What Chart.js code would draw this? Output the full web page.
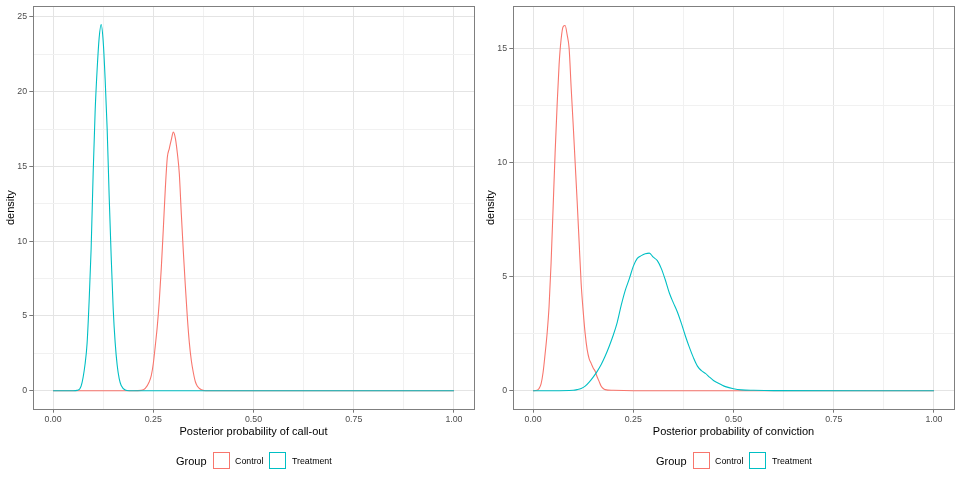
<!DOCTYPE html>
<html>
<head>
<meta charset="utf-8">
<script src="https://cdn.jsdelivr.net/npm/chart.js@4.4.1/dist/chart.umd.min.js"></script>
<style>
  html, body { margin: 0; padding: 0; background: #fff; }
  #wrap { position: relative; width: 960px; height: 480px; font-family: "Liberation Sans", Arial, sans-serif; }
  canvas { position: absolute; top: 0; }
  .legend { position: absolute; top: 452px; height: 17px; display: flex; align-items: center; white-space: nowrap; }
  .legend .ttl { font-size: 11px; color: #000; margin-right: 6px; }
  .legend .key { width: 17px; height: 17px; box-sizing: border-box; border: 1.1px solid; margin-right: 5.5px; }
  .legend .lab { font-size: 8.8px; color: #000; margin-right: 6px; }
</style>
</head>
<body>
<div id="wrap">
  <canvas id="callout" width="480" height="480" style="left:0"></canvas>
  <canvas id="conviction" width="480" height="480" style="left:480px"></canvas>
  <div class="legend" id="legCallout" style="left:176px"></div>
  <div class="legend" id="legConviction" style="left:656px"></div>
</div>
<script>
// groups and colours
const groups = ['Control', 'Treatment'];
const groupColors = ['#F8766D', '#00BFC4'];

// axis breaks
const xBreaks = [0, 0.25, 0.5, 0.75, 1];
const xBreakLabels = ['0.00', '0.25', '0.50', '0.75', '1.00'];
const calloutYBreaks = [0, 5, 10, 15, 20, 25];
const convictionYBreaks = [0, 5, 10, 15];

// left panel: posterior probability of call-out
const calloutControlX = [0, 0.2, 0.22, 0.23, 0.24, 0.245, 0.25, 0.255, 0.26, 0.265, 0.27, 0.275, 0.28, 0.285, 0.29, 0.295, 0.3, 0.305, 0.31, 0.315, 0.32, 0.325, 0.33, 0.335, 0.34, 0.345, 0.35, 0.355, 0.36, 0.37, 0.38, 1];
const calloutControlY = [0, 0, 0.02, 0.15, 0.6, 1.0, 1.8, 3.0, 4.3, 6.0, 8.2, 10.8, 13.5, 15.6, 16.2, 16.8, 17.3, 16.9, 15.9, 14.5, 11.8, 9.3, 7.0, 4.9, 3.2, 2.0, 1.2, 0.6, 0.3, 0.06, 0, 0];
const calloutTreatX = [0, 0.05, 0.06, 0.07, 0.08, 0.085, 0.09, 0.095, 0.1, 0.105, 0.11, 0.115, 0.12, 0.125, 0.13, 0.135, 0.14, 0.145, 0.15, 0.155, 0.16, 0.165, 0.17, 0.18, 0.19, 1];
const calloutTreatY = [0, 0, 0.02, 0.3, 1.8, 3.2, 6.0, 9.5, 14.5, 18.7, 21.5, 23.6, 24.5, 23.4, 20.8, 17.5, 13.0, 9.0, 5.5, 3.2, 1.7, 0.8, 0.35, 0.05, 0, 0];

// right panel: posterior probability of conviction
const convictionControlX = [0, 0.01, 0.015, 0.02, 0.025, 0.03, 0.035, 0.04, 0.045, 0.05, 0.055, 0.06, 0.065, 0.07, 0.075, 0.08, 0.085, 0.09, 0.095, 0.1, 0.105, 0.11, 0.115, 0.12, 0.125, 0.13, 0.135, 0.14, 0.145, 0.15, 0.155, 0.16, 0.165, 0.17, 0.175, 0.18, 0.2, 0.25, 1];
const convictionControlY = [0, 0.02, 0.1, 0.3, 0.8, 1.6, 2.5, 3.7, 5.6, 8.0, 10.4, 12.5, 14.3, 15.4, 15.95, 16.0, 15.6, 15.0, 13.3, 11.7, 10.0, 8.3, 6.5, 4.7, 3.5, 2.5, 1.8, 1.4, 1.2, 1.0, 0.85, 0.6, 0.4, 0.2, 0.1, 0.05, 0.02, 0, 0];
const convictionTreatX = [0, 0.05, 0.1, 0.11, 0.12, 0.13, 0.14, 0.15, 0.16, 0.17, 0.18, 0.19, 0.2, 0.21, 0.22, 0.23, 0.24, 0.25, 0.26, 0.27, 0.28, 0.29, 0.3, 0.31, 0.32, 0.33, 0.34, 0.35, 0.36, 0.37, 0.38, 0.39, 0.4, 0.41, 0.42, 0.43, 0.44, 0.45, 0.46, 0.47, 0.48, 0.5, 0.52, 0.55, 0.6, 1];
const convictionTreatY = [0, 0, 0.02, 0.05, 0.1, 0.2, 0.38, 0.6, 0.85, 1.15, 1.52, 1.95, 2.43, 3.0, 3.75, 4.4, 4.9, 5.45, 5.8, 5.92, 6.0, 6.03, 5.85, 5.7, 5.35, 4.85, 4.28, 3.85, 3.45, 2.95, 2.4, 1.9, 1.45, 1.08, 0.88, 0.76, 0.6, 0.45, 0.35, 0.26, 0.18, 0.09, 0.04, 0.02, 0.005, 0];

function pts(xs, ys) { return xs.map((x, i) => ({ x: x, y: ys[i] })); }

// majors plus midpoints (ggplot minor grid)
function withMinors(br) {
  const out = [];
  br.forEach((b, i) => { out.push(b); if (i < br.length - 1) out.push((b + br[i + 1]) / 2); });
  return out;
}

const panelBorder = {
  id: 'panelBorder',
  afterDatasetsDraw(chart) {
    const a = chart.chartArea, ctx = chart.ctx;
    const l = Math.floor(a.left) + 0.5, t = Math.floor(a.top) + 0.5;
    const r = Math.floor(a.right) + 0.5, b = Math.floor(a.bottom) + 0.5;
    ctx.save();
    ctx.strokeStyle = '#7f7f7f';
    ctx.lineWidth = 1;
    ctx.strokeRect(l, t, r - l, b - t);
    ctx.restore();
  }
};

function makePanel(id, xTitle, series, yBreaks, yMin, yMax) {
  const xAll = withMinors(xBreaks);
  const yAll = withMinors(yBreaks);
  const isMajor = (arr) => (c) => arr.includes(c.tick && c.tick.value);
  const xMaj = isMajor(xBreaks), yMaj = isMajor(yBreaks);
  const tickFont = { family: 'Liberation Sans', size: 8.8, lineHeight: 0.9 };

  new Chart(document.getElementById(id).getContext('2d'), {
    type: 'line',
    data: {
      datasets: series.map((s, i) => ({
        label: groups[i],
        data: pts(s[0], s[1]),
        borderColor: groupColors[i],
        borderWidth: 1.1,
        pointRadius: 0,
        fill: false,
        cubicInterpolationMode: 'monotone',
        order: groups.length - i
      }))
    },
    options: {
      responsive: false,
      animation: false,
      events: [],
      layout: { padding: { top: 5.5, right: 6, bottom: 40, left: 0 } },
      plugins: { legend: { display: false }, tooltip: { enabled: false } },
      scales: {
        x: {
          type: 'linear',
          min: -0.05, max: 1.05,
          afterBuildTicks: (sc) => { sc.ticks = xAll.map(v => ({ value: v })); },
          afterFit: (sc) => { sc.height = 31; },
          border: { display: false },
          grid: {
            color: (c) => xMaj(c) ? '#E4E4E4' : '#F1F1F1',
            lineWidth: 1,
            tickLength: 3.7,
            tickColor: (c) => xMaj(c) ? '#555' : 'rgba(0,0,0,0)',
            tickWidth: (c) => xMaj(c) ? 0.8 : 0
          },
          ticks: {
            autoSkip: false, maxRotation: 0, padding: 2.5,
            color: '#4D4D4D', font: tickFont,
            callback: (v) => { const k = xBreaks.indexOf(v); return k >= 0 ? xBreakLabels[k] : ''; }
          },
          title: {
            display: true, text: xTitle, color: '#000',
            font: { family: 'Liberation Sans', size: 11, lineHeight: 1.2 },
            padding: { top: 0, bottom: 1.2 }
          }
        },
        y: {
          type: 'linear',
          min: yMin, max: yMax,
          afterBuildTicks: (sc) => { sc.ticks = yAll.map(v => ({ value: v })); },
          afterFit: (sc) => { sc.width = 33; },
          border: { display: false },
          grid: {
            color: (c) => yMaj(c) ? '#E4E4E4' : '#F1F1F1',
            lineWidth: 1,
            tickLength: 3.7,
            tickColor: (c) => yMaj(c) ? '#555' : 'rgba(0,0,0,0)',
            tickWidth: (c) => yMaj(c) ? 0.8 : 0
          },
          ticks: {
            autoSkip: false, padding: 2.2,
            color: '#4D4D4D', font: tickFont,
            callback: (v) => yBreaks.includes(v) ? String(v) : ''
          },
          title: {
            display: true, text: 'density', color: '#000',
            font: { family: 'Liberation Sans', size: 11, lineHeight: 1.2 },
            padding: { top: 4, bottom: 0 }
          }
        }
      }
    },
    plugins: [panelBorder]
  });
}

function makeLegend(id) {
  const el = document.getElementById(id);
  let html = '<span class="ttl">Group</span>';
  groups.forEach((g, i) => {
    html += '<span class="key" style="border-color:' + groupColors[i] + '"></span><span class="lab">' + g + '</span>';
  });
  el.innerHTML = html;
}

makePanel('callout', 'Posterior probability of call-out',
  [[calloutControlX, calloutControlY], [calloutTreatX, calloutTreatY]],
  calloutYBreaks, -1.225, 25.725);
makePanel('conviction', 'Posterior probability of conviction',
  [[convictionControlX, convictionControlY], [convictionTreatX, convictionTreatY]],
  convictionYBreaks, -0.8, 16.85);
makeLegend('legCallout');
makeLegend('legConviction');
</script>
</body>
</html>
